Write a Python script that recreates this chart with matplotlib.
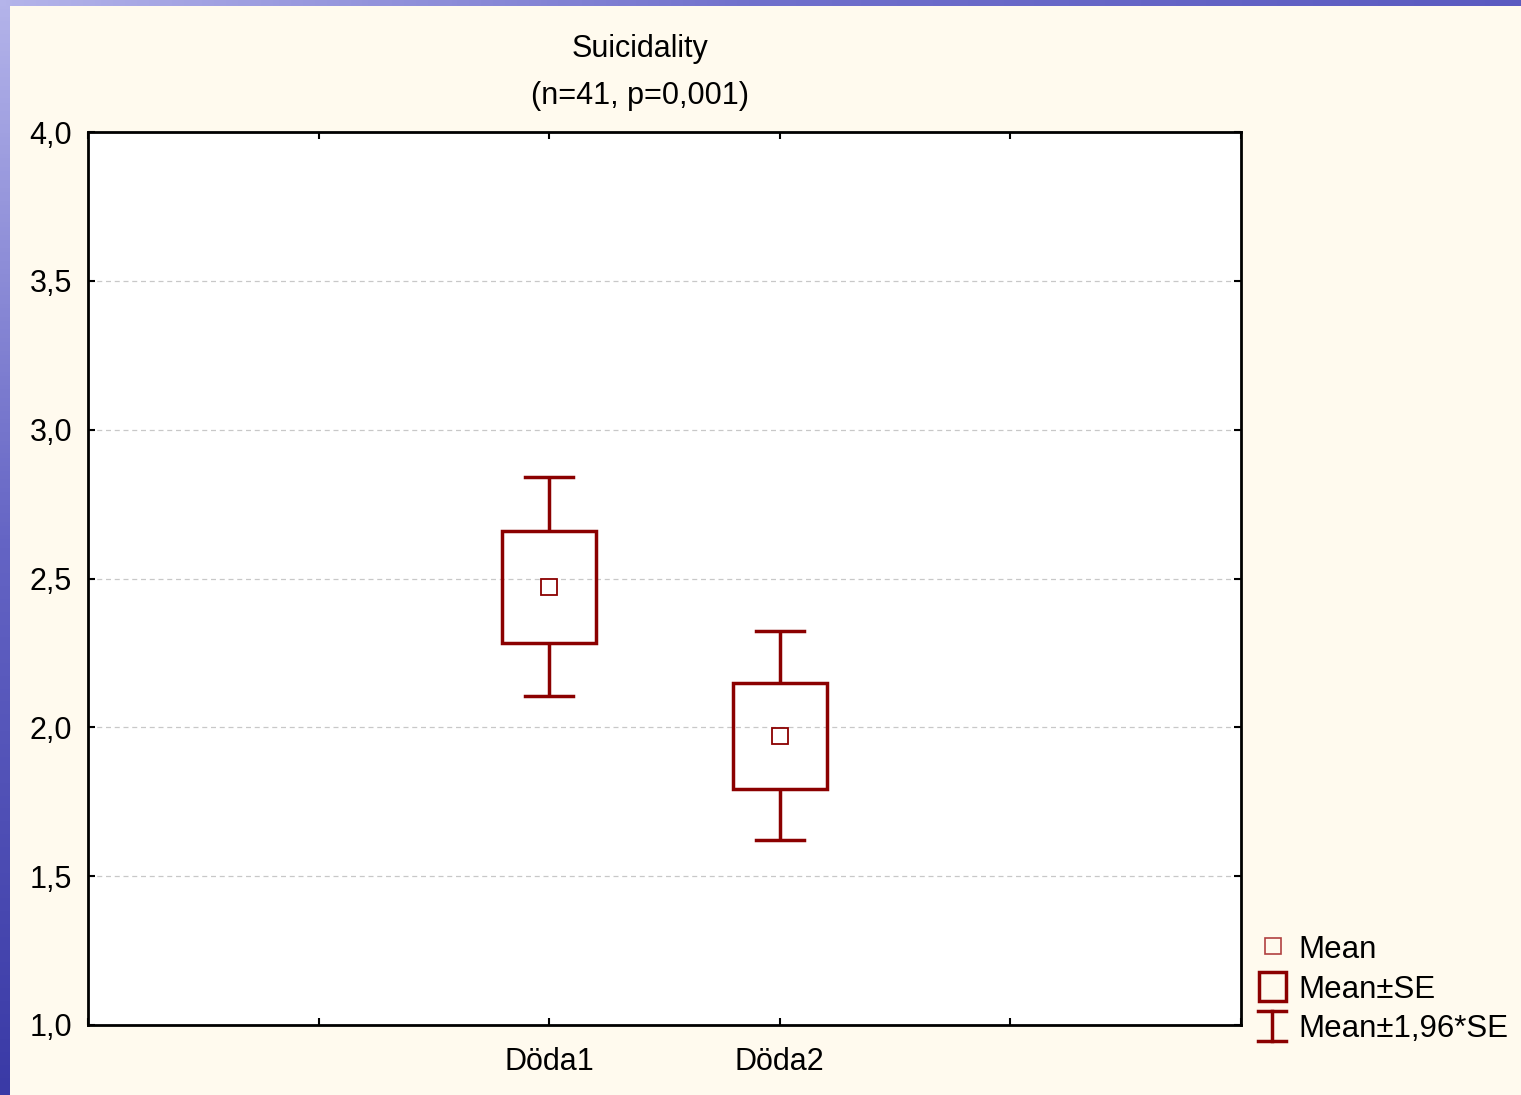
import matplotlib
matplotlib.use("Agg")
import matplotlib.pyplot as plt
import numpy as np
from matplotlib.patches import Rectangle
from matplotlib.lines import Line2D
from matplotlib.colors import LinearSegmentedColormap

# ---- data ----
categories = ["Döda1", "Döda2"]
cat_pos = [2, 3]
means = [2.472, 1.971]
se_low = [2.284, 1.793]
se_high = [2.660, 2.149]
ci_low = [2.106, 1.622]
ci_high = [2.841, 2.324]
yticks = [1.0, 1.5, 2.0, 2.5, 3.0, 3.5, 4.0]
ytick_labels = ["1,0", "1,5", "2,0", "2,5", "3,0", "3,5", "4,0"]
title_line1 = "Suicidality"
title_line2 = "(n=41, p=0,001)"
legend_labels = ["Mean", "Mean±SE", "Mean±1,96*SE"]

W, H = 1521, 1095
plt.rcParams['font.family'] = ['Liberation Sans', 'DejaVu Sans']
fig = plt.figure(figsize=(W / 100, H / 100), dpi=100)
fig.patch.set_facecolor('#fffaee')

red = '#8b0000'
FS = 22

# decorative gradient borders
lax = fig.add_axes([0, 0, 10 / W, 1])
grad = np.linspace(0, 1, 256)[:, None]
cmap_l = LinearSegmentedColormap.from_list('l', ['#3a3aa6', '#6464c4', '#b4b4ea'])
lax.imshow(grad, aspect='auto', cmap=cmap_l, origin='lower', extent=[0, 1, 0, 1])
lax.axis('off')
tax = fig.add_axes([0, 1 - 6 / H, 1, 6 / H])
cmap_t = LinearSegmentedColormap.from_list('t', ['#b4b4ea', '#7070cc', '#5a5ac0'])
tax.imshow(np.linspace(0, 1, 256)[None, :], aspect='auto', cmap=cmap_t, extent=[0, 1, 0, 1])
tax.axis('off')

ax = fig.add_axes([88 / W, 1 - 1025 / H, (1241 - 88) / W, (1025 - 132) / H])
ax.set_facecolor('white')
ax.set_xlim(0, 5)
ax.set_ylim(1.0, 4.0)

box_hw = 0.204
cap_hw = 0.104
for x, m, sl, sh, cl, ch in zip(cat_pos, means, se_low, se_high, ci_low, ci_high):
    ax.plot([x, x], [sh, ch], color=red, lw=2.5, zorder=3, solid_capstyle='butt')
    ax.plot([x, x], [cl, sl], color=red, lw=2.5, zorder=3, solid_capstyle='butt')
    ax.plot([x - cap_hw, x + cap_hw], [ch, ch], color=red, lw=2.5, zorder=3)
    ax.plot([x - cap_hw, x + cap_hw], [cl, cl], color=red, lw=2.5, zorder=3)
    ax.add_patch(Rectangle((x - box_hw, sl), 2 * box_hw, sh - sl, fill=False,
                           edgecolor=red, lw=2.5, zorder=3))
    ax.plot([x], [m], marker='s', ms=12, mfc='white', mec=red, mew=1.3, zorder=4)

ax.set_yticks(yticks)
ax.set_yticklabels(ytick_labels, fontsize=FS)
ax.set_xticks([0, 1, 2, 3, 4, 5])
ax.set_xticklabels(["", ""] + categories + ["", ""], fontsize=FS)
ax.tick_params(direction='in', length=5, width=1.5, top=True, right=True, color='black')
ax.tick_params(axis='y', pad=11.5)
ax.tick_params(axis='x', pad=16)
for s in ax.spines.values():
    s.set_linewidth(2)
for y in yticks[1:-1]:
    ax.axhline(y, color='#c8c8c8', lw=0.9, ls=(0, (4, 3)), zorder=1)

fig.text(640 / W, 1 - 49 / H, title_line1, ha='center', va='center', fontsize=FS)
fig.text(640 / W, 1 - 96 / H, title_line2, ha='center', va='center', fontsize=FS)

# legend (manual)
fig.add_artist(Line2D([1273 / W], [1 - 946 / H], marker='s', ms=11, mfc='none', mec='#b04040', mew=1.2, ls='none'))
fig.add_artist(Rectangle((1259 / W, 1 - 1001 / H), 27 / W, 29 / H, fill=False, edgecolor=red, lw=2.5))
fig.add_artist(Line2D([1272 / W, 1272 / W], [1 - 1011 / H, 1 - 1041 / H], color=red, lw=2.5))
fig.add_artist(Line2D([1258 / W, 1286 / W], [1 - 1011 / H, 1 - 1011 / H], color=red, lw=2.5))
fig.add_artist(Line2D([1258 / W, 1286 / W], [1 - 1041 / H, 1 - 1041 / H], color=red, lw=2.5))
for lab, yy in zip(legend_labels, [950, 990, 1029]):
    fig.text(1298 / W, 1 - yy / H, lab, ha='left', va='center', fontsize=22.5)

fig.savefig('out.png', dpi=100, facecolor=fig.get_facecolor())
